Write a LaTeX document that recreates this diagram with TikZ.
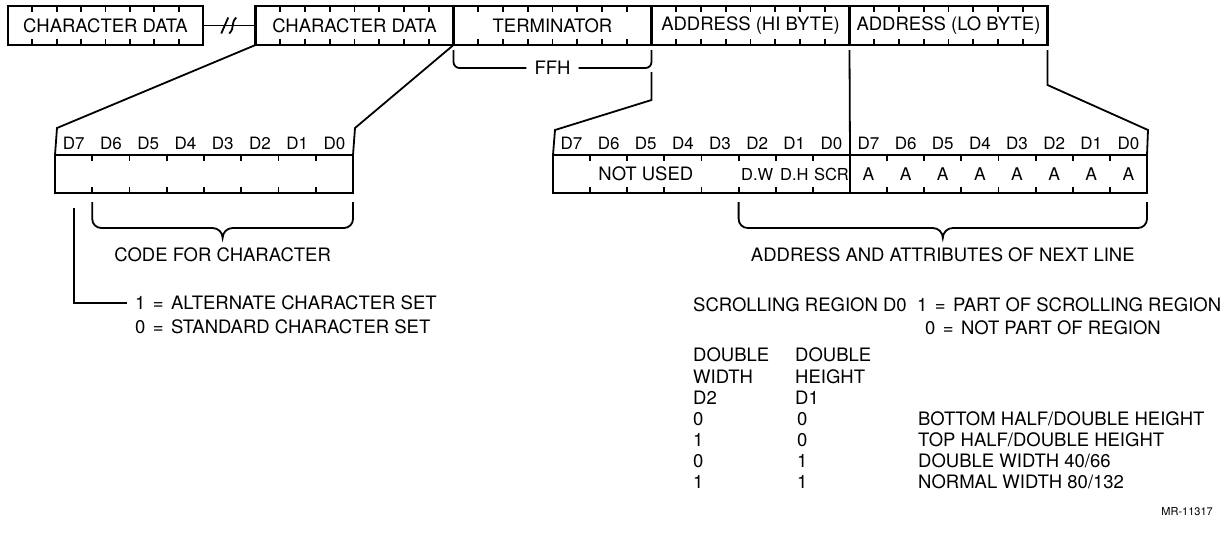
\documentclass[tikz,border=0pt]{standalone}
\usepackage{fontspec}
\setmainfont{TeX Gyre Heros}
\usetikzlibrary{positioning,calc}

\tikzset{
  field/.style={draw, line width=2.4pt, outer sep=0pt, inner sep=0pt,
    minimum width=198pt, minimum height=39pt, font=\fontsize{18.5}{21}\selectfont},
  regbox/.style={draw, line width=2.4pt, outer sep=0pt, inner sep=0pt,
    minimum width=297pt, minimum height=38pt},
  bitlbl/.style={inner sep=0pt, font=\fontsize{17}{19}\selectfont},
  celltxt/.style={inner sep=0pt, font=\fontsize{16.5}{18}\selectfont},
  lbl/.style={inner sep=0pt, anchor=west, font=\fontsize{18.5}{21}\selectfont},
  link/.style={line width=1.8pt},
  tick/.style={line width=1.8pt},
}
\newcommand\eqsign{\hspace{.4em}=\hspace{.4em}}

\begin{document}
\begin{tikzpicture}[x=1pt, y=-1pt]
  \useasboundingbox (0,0) rectangle (1223,542);

  % ── Fields of one screen line in memory ──
  \node[field, minimum width=195pt] (chr1) at (105.5,25.5) {CHARACTER DATA};
  \node[field] (chr2) at (354.5,25.5) {CHARACTER DATA};
  \node[field, right=0pt of chr2] (term) {TERMINATOR};
  \node[field, right=0pt of term] (hib) {ADDRESS (HI BYTE)};
  \node[field, right=0pt of hib] (lob) {ADDRESS (LO BYTE)};

  % ── Bytes expanded to bits ──
  \node[regbox, minimum width=298pt] (chreg) at (204,174) {};
  \node[regbox] (hireg) at (701.5,174) {};
  \node[regbox, right=0pt of hireg] (loreg) {};

  % bit ticks, top and bottom edges
  \foreach \n in {chr1,chr2,term,hib,lob,chreg,hireg,loreg}
    \foreach \k in {1,...,7} {
      \draw[tick] ($(\n.north west)!\k/8!(\n.north east)$) -- ++(0,6);
      \draw[tick] ($(\n.south west)!\k/8!(\n.south east)$) -- ++(0,-6);
    }

  % bit numbers above the registers
  \foreach \b [count=\c, evaluate=\c as \f using (\c-0.5)/8] in {7,6,...,0} {
    \node[bitlbl] (c\b) at ($(chreg.north west)!\f!(chreg.north east)+(0,-12)$) {D\b};
    \node[bitlbl] (h\b) at ($(hireg.north west)!\f!(hireg.north east)+(0,-12)$) {D\b};
    \node[bitlbl] (l\b) at ($(loreg.north west)!\f!(loreg.north east)+(0,-12)$) {D\b};
  }

  % cell contents
  \node[lbl, anchor=center] (nused) at ($(hireg.west)!5/16!(hireg.east)$) {NOT USED};
  \node[celltxt] (dw) at ($(hireg.west)!11/16!(hireg.east)$) {D.W};
  \node[celltxt] (dh) at ($(hireg.west)!13/16!(hireg.east)$) {D.H};
  \node[celltxt] (scr) at ($(hireg.west)!15/16!(hireg.east)$) {SCR};
  \foreach \c [evaluate=\c as \f using (\c-0.5)/8] in {1,...,8}
    \node[celltxt, font=\fontsize{17.5}{19}\selectfont] (a\c) at ($(loreg.west)!\f!(loreg.east)$) {A};

  % ── Break and FFH bracket ──
  \draw[link] (chr1) -- (chr2) coordinate[midway] (brk);
  \draw[link] ($(brk)+(-8,8)$) -- ($(brk)+(-1,-8)$);
  \draw[link] ($(brk)+(0,8)$) .. controls ($(brk)+(6,2)$) and ($(brk)+(1,-2)$) .. ($(brk)+(7,-8)$);

  \node[lbl, anchor=center] (ffh) at ($(term.south)+(0,23)$) {FFH};
  \draw[link, rounded corners=6pt] ($(term.south west)+(0,5)$) |- ([xshift=-8pt]ffh.west);
  \draw[link, rounded corners=6pt] ([xshift=8pt]ffh.east) -| ($(term.south east)+(0,5)$);

  % ── Expansion lines ──
  \draw[link] (chr2.south west) -- ($(chreg.north west)+(2,-27)$) -- (chreg.north west);
  \draw[link] (chr2.south east) -- ($(chreg.north east)+(2,-27)$) -- (chreg.north east);
  \draw[link] ($(term.south east)+(0,27)$) -- ($(term.south east)+(0,55)$)
    -- ($(hireg.north west)+(2,-25)$) -- (hireg.north west);
  \draw[link] ($(hib.south east)+(0,5)$) -- (loreg.north west);
  \draw[link] ($(lob.south east)+(0,5)$) -- ($(lob.south east)+(0,40)$)
    -- ($(loreg.north east)+(1,-25)$) -- (loreg.north east);

  % ── Braces under the registers ──
  \coordinate (cbl) at ($(chreg.south west)!1/8!(chreg.south east)+(0,9)$);
  \coordinate (cbr) at ($(chreg.south east)+(0,9)$);
  \coordinate (cbm) at ($(cbl)!0.5!(cbr)+(0,36)$);
  \draw[link] (cbl) -- ++(0,17) to[out=-90,in=180] ++(9,9) -- ($(cbm)+(-10,-10)$)
    to[out=0,in=90] (cbm) to[out=90,in=180] ($(cbm)+(10,-10)$)
    -- ($(cbr)+(-9,26)$) to[out=0,in=-90] ($(cbr)+(0,17)$) -- (cbr);
  \node[lbl, anchor=center] (codecap) at ($(cbm)+(0,17)$) {CODE FOR CHARACTER};

  \coordinate (abl) at ($(hireg.south west)!5/8!(hireg.south east)+(0,9)$);
  \coordinate (abr) at ($(loreg.south east)+(0,9)$);
  \coordinate (abm) at ($(abl)!0.5!(abr)+(0,36)$);
  \draw[link] (abl) -- ++(0,17) to[out=-90,in=180] ++(9,9) -- ($(abm)+(-10,-10)$)
    to[out=0,in=90] (abm) to[out=90,in=180] ($(abm)+(10,-10)$)
    -- ($(abr)+(-9,26)$) to[out=0,in=-90] ($(abr)+(0,17)$) -- (abr);
  \node[lbl, anchor=center] (addrcap) at ($(abm)+(0,17)$) {ADDRESS AND ATTRIBUTES OF NEXT LINE};

  % ── D7: character set select ──
  \coordinate (d7) at ($(chreg.south west)!1/16!(chreg.south east)+(0,15)$);
  \node[lbl] (alt) at (135,303) {1\eqsign ALTERNATE CHARACTER SET};
  \node[lbl] (std) at (135,327) {0\eqsign STANDARD CHARACTER SET};
  \draw[link] (d7) |- ([xshift=-8pt]alt.west);

  % ── Scrolling region ──
  \node[lbl] (scrl) at (693,305) {SCROLLING REGION D0};
  \node[lbl, right=10pt of scrl] (scr1) {1\eqsign PART OF SCROLLING REGION};
  \node[lbl] (scr0) at ($(scr1.west)+(8,23)$) {0\eqsign NOT PART OF REGION};

  % ── Double width / double height table ──
  \node[lbl] (dwa) at (693,355) {DOUBLE};
  \node[lbl] (dwb) at (693,376.5) {WIDTH};
  \node[lbl] (dwc) at (693,398) {D2};
  \node[lbl] (dha) at (795,355) {DOUBLE};
  \node[lbl] (dhb) at (795,376.5) {HEIGHT};
  \node[lbl] (dhc) at (795,398) {D1};
  \foreach \w/\h [count=\r] in {0/0, 1/0, 0/1, 1/1} {
    \node[lbl] (w\r) at (693,{398+21*\r}) {\w};
    \node[lbl] (h\r) at (797,{398+21*\r}) {\h};
  }
  \node[lbl] (m1) at (918,419) {BOTTOM HALF/DOUBLE HEIGHT};
  \node[lbl] (m2) at (918,440) {TOP HALF/DOUBLE HEIGHT};
  \node[lbl] (m3) at (918,461) {DOUBLE WIDTH 40/66};
  \node[lbl] (m4) at (918,482) {NORMAL WIDTH 80/132};

  \node[inner sep=0pt, anchor=east, font=\fontsize{11}{13}\selectfont] (mr) at (1213,512) {MR-11317};
\end{tikzpicture}
\end{document}
